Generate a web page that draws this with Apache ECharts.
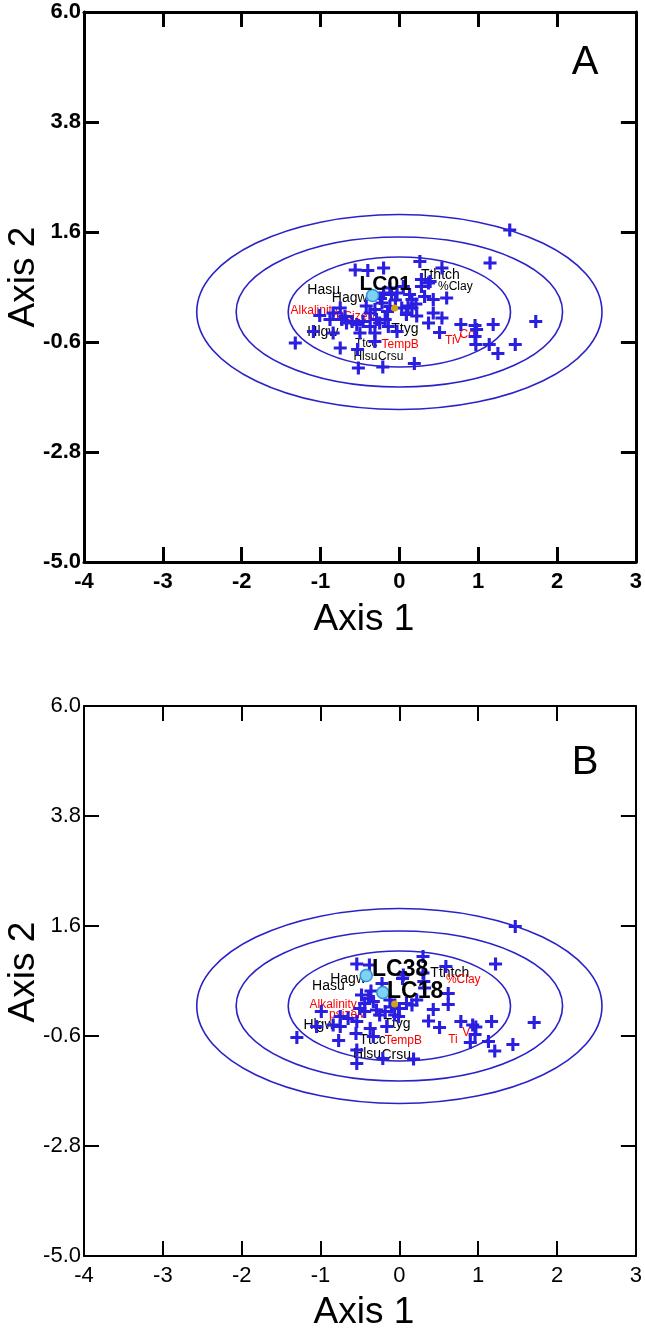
<!DOCTYPE html>
<html>
<head>
<meta charset="utf-8">
<script src="https://cdn.jsdelivr.net/npm/echarts@6/dist/echarts.min.js"></script>
<style>
  html, body { margin: 0; padding: 0; background: #ffffff; }
  #chart { width: 645px; height: 1335px; }
</style>
</head>
<body>
<div id="chart"></div>
<script>
// ---- axis ticks ----
const xTicks = [-4, -3, -2, -1, 0, 1, 2, 3];
const yTicks = [-5.0, -2.8, -0.6, 1.6, 3.8, 6.0];

// ---- confidence rings: [centre x, centre y, radius x, radius y] ----
const ellipseRings = [
  [0, 0, 1.41, 1.10],
  [0, 0, 2.07, 1.50],
  [0, 0, 2.57, 1.95]
];

// ---- panel A: site scores (Axis 1, Axis 2) ----
const sitesA = [
  [1.40, 1.64], [0.26, 1.01], [0.54, 0.88], [1.15, 0.98], [-0.56, 0.84],
  [-0.40, 0.83], [-0.20, 0.88], [0.28, 0.65], [0.39, 0.61], [0.28, 0.51],
  [0.37, 0.58], [0.32, 0.31], [0.60, 0.28], [0.13, 0.35], [-0.12, 0.48],
  [-0.03, 0.38], [0.05, 0.51], [0.16, 0.25], [-0.22, 0.18], [-0.12, 0.11],
  [0.03, 0.08], [0.09, -0.05], [0.16, 0.08], [0.11, 0.12], [0.43, 0.25],
  [0.43, -0.02], [0.54, -0.12], [0.37, -0.22], [0.51, -0.41], [0.78, -0.25],
  [0.96, -0.27], [0.98, -0.35], [1.19, -0.25], [0.96, -0.49], [0.97, -0.65],
  [1.14, -0.65], [1.25, -0.83], [1.47, -0.65], [1.73, -0.19], [0.19, -1.03],
  [-0.21, -1.10], [-0.52, -1.12], [-0.53, -0.75], [-0.75, -0.72], [-0.84, -0.42],
  [-1.32, -0.62], [-1.09, -0.39], [-1.01, -0.07], [-0.75, 0.08], [-0.84, -0.02],
  [-0.73, -0.15], [-0.67, -0.22], [-0.60, -0.19], [-0.54, -0.25], [-0.46, -0.19],
  [-0.37, -0.29], [-0.25, -0.22], [-0.50, -0.42], [-0.31, -0.42], [-0.31, -0.59],
  [-0.37, -0.02], [-0.29, -0.15], [-0.18, -0.15], [-0.14, -0.29], [-0.03, -0.39],
  [-0.69, -0.09], [-0.88, -0.15], [-0.20, 0.38], [-0.31, 0.05], [-0.10, 0.35],
  [0.09, -0.02], [-0.24, 0.27], [-0.05, 0.24], [0.21, 0.16], [-0.15, 0.01],
  [0.22, -0.08], [-0.42, 0.12]
];

// ---- panel B: site scores (Axis 1, Axis 2) ----
const sitesB = [
  [1.47, 1.59], [0.30, 0.99], [0.59, 0.79], [1.22, 0.84], [-0.54, 0.84],
  [-0.38, 0.82], [0.30, 0.66], [0.31, 0.49], [0.05, 0.62], [0.62, 0.25],
  [0.62, 0.03], [0.43, -0.07], [0.09, 0.05], [0.16, 0.02], [0.37, -0.30],
  [0.51, -0.43], [0.78, -0.31], [0.93, -0.38], [0.97, -0.42], [1.17, -0.31],
  [0.96, -0.57], [0.90, -0.73], [1.13, -0.71], [1.21, -0.90], [1.44, -0.77],
  [1.71, -0.33], [0.18, -1.06], [-0.21, -1.05], [-0.54, -1.15], [-0.54, -0.88],
  [-0.77, -0.69], [-1.30, -0.63], [-0.84, -0.38], [-1.05, -0.41], [-0.99, -0.11],
  [-0.75, -0.21], [-0.65, -0.25], [-0.75, -0.41], [-0.54, -0.31], [-0.37, -0.45],
  [-0.33, -0.61], [-0.16, -0.41], [-0.06, -0.18], [-0.22, 0.45], [-0.48, 0.22],
  [-0.39, 0.15], [-0.44, 0.05], [-0.33, 0.09], [-0.50, -0.05], [-0.44, -0.11],
  [-0.29, -0.08], [-0.25, -0.18], [-0.18, -0.11], [-0.01, -0.21], [0.04, 0.55],
  [0.32, 0.36], [-0.12, 0.12], [0.00, -0.05], [-0.55, -0.55], [-0.36, 0.30],
  [0.22, 0.12], [-0.10, -0.02]
];

// ---- species labels [name, x, y] ----
const speciesA = [
  ['Tthtch', 0.52, 0.73], ['%Clay', 0.71, 0.51], ['Hasu', -0.96, 0.44],
  ['Hagw', -0.63, 0.28], ['Ttyg', 0.07, -0.34], ['Hlgw', -0.97, -0.40],
  ['Ttcc', -0.42, -0.63], ['Hlsu', -0.43, -0.89], ['Crsu', -0.11, -0.90]
];
const speciesB = [
  ['Hagw', -0.65, 0.54], ['Hasu', -0.90, 0.39], ['Tthtch', 0.64, 0.66],
  ['Ttyg', -0.03, -0.36], ['Hlgw', -1.02, -0.38], ['Ttcc', -0.34, -0.69],
  ['Hlsu', -0.41, -0.96], ['Crsu', -0.04, -0.98]
];

// ---- environmental variable labels [name, x, y] ----
const envA = [
  ['Alkalinity', -1.08, 0.03], ['PSizeM', -0.54, -0.10], ['TempB', 0.01, -0.65],
  ['Ti', 0.64, -0.57], ['V', 0.74, -0.55], ['Co', 0.86, -0.46]
];
const envB = [
  ['%Clay', 0.81, 0.52], ['Alkalinity', -0.84, 0.02], ['psizeM', -0.65, -0.17],
  ['TempB', 0.05, -0.70], ['Ti', 0.68, -0.68], ['V', 0.85, -0.54]
];

// ---- highlighted samples [name, x, y] and their label anchors ----
const samplesA = [['LC01', -0.34, 0.33]];
const sampleLabelsA = [['LC01', -0.18, 0.55]];
const samplesB = [['LC38', -0.42, 0.61], ['LC18', -0.21, 0.27]];
const sampleLabelsB = [['LC38', 0.01, 0.72], ['LC18', 0.20, 0.28]];

// ---- ordination centroid ----
const centroidA = [[-0.06, 0.08]];
const centroidB = [[-0.06, 0.04]];

// ---------------- styling & layout ----------------
const FONT = "'Liberation Sans', Arial, sans-serif";
const BLUE = '#2a1ee0';
const RING = '#2a22c8';
const PLUS = 'path://M3.8,0H6.2V3.8H10V6.2H6.2V10H3.8V6.2H0V3.8H3.8Z';
const smallNames = { A: ['Ttcc', 'Hlsu', 'Crsu', '%Clay'], B: [] };

const panels = [
  { key: 'A', top: 12, bold: true, frame: 3,
    sites: sitesA, species: speciesA, env: envA,
    samples: samplesA, sampleLabels: sampleLabelsA, centroid: centroidA, lcSize: 21 },
  { key: 'B', top: 706, bold: false, frame: 2,
    sites: sitesB, species: speciesB, env: envB,
    samples: samplesB, sampleLabels: sampleLabelsB, centroid: centroidB, lcSize: 23 }
];

const grid = [], xAxis = [], yAxis = [], series = [];

panels.forEach((p, i) => {
  grid.push({ left: 84, top: p.top, width: 552, height: 550 });
  const line = { onZero: false, lineStyle: { color: '#000', width: p.frame } };
  const tick = { inside: true, length: 15, lineStyle: { color: '#000', width: p.frame } };
  const lbl = { color: '#000', fontFamily: FONT, fontSize: 22,
                fontWeight: p.bold ? 'bold' : 'normal' };

  xAxis.push({
    gridIndex: i, type: 'value', position: 'bottom', min: xTicks[0], max: xTicks[xTicks.length - 1],
    interval: 1, axisLine: line, axisTick: tick, splitLine: { show: false },
    axisLabel: Object.assign({ margin: 9, formatter: v => String(v) }, lbl)
  });
  xAxis.push({
    gridIndex: i, type: 'value', position: 'top', min: xTicks[0], max: xTicks[xTicks.length - 1],
    interval: 1, axisLine: line, axisTick: tick, splitLine: { show: false },
    axisLabel: { show: false }
  });
  yAxis.push({
    gridIndex: i, type: 'value', position: 'left', min: yTicks[0], max: yTicks[yTicks.length - 1],
    axisLine: line, splitLine: { show: false },
    axisTick: Object.assign({ customValues: yTicks }, tick),
    axisLabel: Object.assign({ margin: 3, customValues: yTicks, formatter: v => v.toFixed(1) }, lbl)
  });
  yAxis.push({
    gridIndex: i, type: 'value', position: 'right', min: yTicks[0], max: yTicks[yTicks.length - 1],
    axisLine: line, splitLine: { show: false },
    axisTick: Object.assign({ customValues: yTicks }, tick),
    axisLabel: { show: false }
  });

  const ax = { xAxisIndex: 2 * i, yAxisIndex: 2 * i };

  // confidence rings
  series.push(Object.assign({
    type: 'custom', z: 1, silent: true,
    data: ellipseRings,
    renderItem: (params, api) => {
      const c = api.coord([api.value(0), api.value(1)]);
      const s = api.size([api.value(2), api.value(3)]);
      return {
        type: 'ellipse',
        shape: { cx: c[0], cy: c[1], rx: s[0], ry: s[1] },
        style: { fill: 'none', stroke: RING, lineWidth: 1.6 }
      };
    }
  }, ax));

  // text placed at data coordinates
  const textSeries = (rows, z, styleFor) => Object.assign({
    type: 'custom', z, silent: true,
    data: rows.map(r => [r[1], r[2]]),
    renderItem: (params, api) => {
      const row = rows[params.dataIndex];
      const c = api.coord([api.value(0), api.value(1)]);
      const st = styleFor(row[0]);
      return {
        type: 'text', x: c[0], y: c[1],
        style: { text: row[0], fill: st.color, font: st.font,
                 align: 'center', verticalAlign: 'middle' }
      };
    }
  }, ax);

  series.push(textSeries(p.species, 2, name => ({
    color: '#000',
    font: `${smallNames[p.key].indexOf(name) >= 0 ? 12 : 14}px ${FONT}`
  })));
  series.push(textSeries(p.env, 2, () => ({ color: '#ff0000', font: `12px ${FONT}` })));

  // site scores
  series.push(Object.assign({
    type: 'scatter', z: 3, silent: true, symbol: PLUS, symbolSize: 13,
    itemStyle: { color: BLUE, opacity: 1 }, data: p.sites
  }, ax));

  // centroid
  series.push(Object.assign({
    type: 'scatter', z: 4, silent: true, symbol: 'circle', symbolSize: 7,
    itemStyle: { color: '#d4a20f', opacity: 1 }, data: p.centroid
  }, ax));

  // highlighted samples
  series.push(Object.assign({
    type: 'scatter', z: 5, silent: true, symbol: 'circle', symbolSize: 12,
    itemStyle: { color: '#80d2f4', borderColor: '#2596d6', borderWidth: 1.5, opacity: 1 },
    data: p.samples.map(r => ({ name: r[0], value: [r[1], r[2]] }))
  }, ax));

  series.push(textSeries(p.sampleLabels, 6, () => ({
    color: '#000', font: `bold ${p.lcSize}px ${FONT}`
  })));
});

const titleStyle = (text, size) => ({ text, fill: '#000', font: `${size}px ${FONT}`,
  textAlign: 'center', textVerticalAlign: 'middle' });

const graphic = [
  { type: 'text', x: 364, y: 620, style: titleStyle('Axis 1', 37) },
  { type: 'text', x: 364, y: 1313, style: titleStyle('Axis 1', 37) },
  { type: 'text', x: 24, y: 277, rotation: Math.PI / 2, style: titleStyle('Axis 2', 37) },
  { type: 'text', x: 24, y: 972, rotation: Math.PI / 2, style: titleStyle('Axis 2', 37) },
  { type: 'text', x: 585, y: 63, style: titleStyle('A', 40) },
  { type: 'text', x: 585, y: 763, style: titleStyle('B', 40) }
];

const chart = echarts.init(document.getElementById('chart'), null, { renderer: 'canvas' });
chart.setOption({
  animation: false,
  backgroundColor: '#ffffff',
  grid, xAxis, yAxis, series, graphic
});
</script>
</body>
</html>
